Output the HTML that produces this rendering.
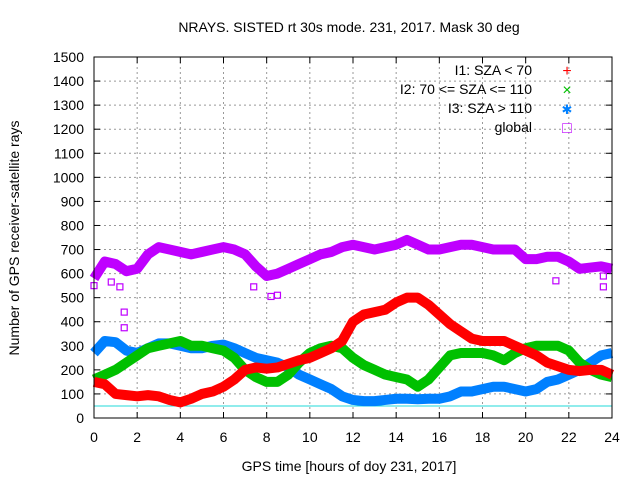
<!DOCTYPE html>
<html><head><meta charset="utf-8"><style>
body{margin:0;background:#fff}
svg{display:block;font-family:"Liberation Sans",sans-serif}
</style></head><body>
<svg id="chart" width="640" height="480">
<rect width="640" height="480" fill="#fff"/>
<text x="349" y="32" text-anchor="middle" font-size="14">NRAYS. SISTED rt 30s mode. 231, 2017. Mask 30 deg</text>
<text transform="translate(19,238) rotate(-90)" text-anchor="middle" font-size="14">Number of GPS receiver-satellite rays</text>
<text x="349" y="471" text-anchor="middle" font-size="14">GPS time [hours of doy 231, 2017]</text>
<g id="grid"></g><g id="ticks"></g><g id="series"></g>
<rect x="94" y="57" width="518" height="361" fill="none" stroke="#000" stroke-width="1"/>
<g id="legend" font-size="14"></g>
</svg>
<script>
const hours=[0,0.5,1,1.5,2,2.5,3,3.5,4,4.5,5,5.5,6,6.5,7,7.5,8,8.5,9,9.5,10,10.5,11,11.5,12,12.5,13,13.5,14,14.5,15,15.5,16,16.5,17,17.5,18,18.5,19,19.5,20,20.5,21,21.5,22,22.5,23,23.5,24];
const globalVals=[580,650,640,610,620,680,710,700,690,680,690,700,710,700,680,630,590,600,620,640,660,680,690,710,720,710,700,710,720,740,720,700,700,710,720,720,710,700,700,700,660,660,670,670,650,620,625,630,620];
const redVals=[150,140,100,95,90,95,90,75,65,80,100,110,130,160,200,210,205,210,225,240,250,270,290,320,400,430,440,450,480,500,500,470,430,390,360,330,320,320,320,300,280,260,230,215,200,195,200,200,180];
const greenVals=[160,180,200,230,260,290,300,310,320,300,300,290,280,250,200,170,150,150,180,230,270,290,300,290,250,220,200,180,170,160,130,160,210,260,270,270,270,260,240,270,290,300,300,300,280,230,200,180,170];
const blueVals=[270,320,315,280,270,290,310,310,300,290,290,300,305,290,270,250,240,230,210,180,160,140,120,90,75,70,70,75,80,80,78,80,80,90,110,110,120,130,130,120,110,120,150,160,180,200,230,260,270];
const globalOutX=[0,0.8,1.2,1.4,1.4,7.4,8.2,8.5,21.4,23.6,23.6];
const globalOutY=[550,565,545,440,375,545,505,510,570,545,590];
const yTicks=[0,100,200,300,400,500,600,700,800,900,1000,1100,1200,1300,1400,1500];
const xTicks=[0,2,4,6,8,10,12,14,16,18,20,22,24];
const maskLevel=50;
const sx=h=>94+h*(518/24);
const sy=v=>418-v*(361/1500);
const NS="http://www.w3.org/2000/svg";
function mk(tag,attrs,parent){const e=document.createElementNS(NS,tag);for(const k in attrs)e.setAttribute(k,attrs[k]);parent.appendChild(e);return e;}
const grid=document.getElementById('grid'),ticks=document.getElementById('ticks'),series=document.getElementById('series'),legend=document.getElementById('legend');
yTicks.forEach(v=>{
 if(v>0&&v<1500){const g=mk('line',{x1:94,x2:612,y1:sy(v),y2:sy(v),stroke:'#999','stroke-dasharray':'2,3'},grid);
 
 }
 const t=mk('text',{x:84,y:sy(v)+5,'text-anchor':'end','font-size':14},ticks);t.textContent=v;
 
 
 mk('line',{x1:94,x2:100,y1:sy(v),y2:sy(v),stroke:'#000'},ticks);
 mk('line',{x1:606,x2:612,y1:sy(v),y2:sy(v),stroke:'#000'},ticks);
});
xTicks.forEach(v=>{
 if(v>0&&v<24){const g=mk('line',{x1:sx(v),x2:sx(v),y1:57,y2:418,stroke:'#999','stroke-dasharray':'2,3'},grid);
 
 }
 const t=mk('text',{x:sx(v),y:442,'text-anchor':'middle','font-size':14},ticks);t.textContent=v;
 
 
 mk('line',{x1:sx(v),x2:sx(v),y1:418,y2:412,stroke:'#000'},ticks);
 mk('line',{x1:sx(v),x2:sx(v),y1:57,y2:63,stroke:'#000'},ticks);
});
const mask=mk('line',{x1:sx(0),x2:sx(24),y1:sy(maskLevel),y2:sy(maskLevel),stroke:'#22d8d8','stroke-width':1},series);


function band(vals,color,name){
 const p=mk('polyline',{points:hours.map((h,i)=>sx(h)+','+sy(vals[i])).join(' '),fill:'none',stroke:color,'stroke-width':10,'stroke-linejoin':'round','stroke-linecap':'butt'},series);
 
 
}
band(globalVals,'#bf00ff','series-global');
band(blueVals,'#0080ff','series-i3');
band(greenVals,'#00c000','series-i2');
band(redVals,'#ff0000','series-i1');
globalOutX.forEach((h,i)=>{
 const r=mk('rect',{x:sx(h)-3,y:sy(globalOutY[i])-3,width:6,height:6,fill:'none',stroke:'#bf00ff','stroke-width':1.2},series);
 
 
});
const leg=[['I1: SZA < 70','#ff0000','+'],['I2: 70 <= SZA <= 110','#00c000','×'],['I3: SZA > 110','#0080ff','✱'],['global','#bf00ff','□']];
leg.forEach((l,i)=>{
 const y=75+i*19;
 const t=mk('text',{x:532,y:y,'text-anchor':'end'},legend);t.textContent=l[0];
 
 
 const m=mk('text',{x:567,y:y+1,'text-anchor':'middle',fill:l[1],'font-size':i==2?13:16},legend);m.textContent=l[2];
 
 
});
</script>
</body></html>
